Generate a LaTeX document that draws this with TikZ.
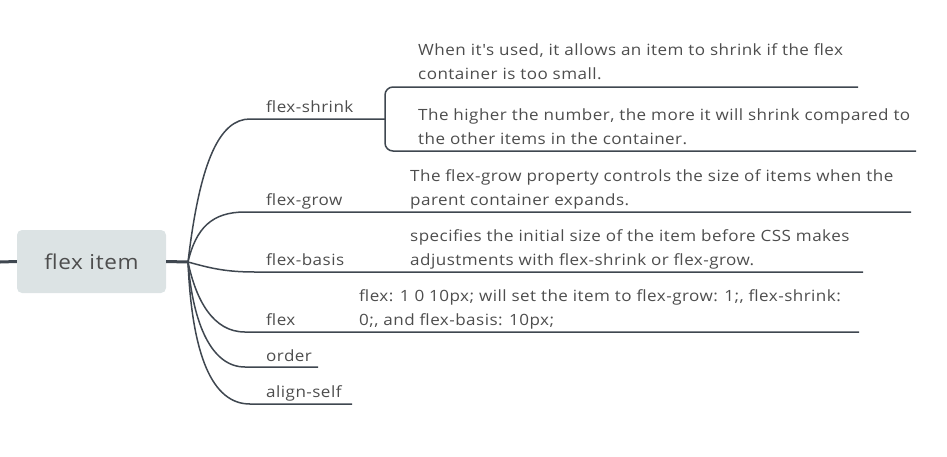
\documentclass[tikz,border=0pt]{standalone}
\usepackage{fontspec}
\setmainfont{Open Sans}[FakeStretch=1.1,LetterSpace=3,Ligatures=TeXOff]
\definecolor{linec}{HTML}{3F4750}
\definecolor{textc}{HTML}{4D4D4D}
\definecolor{boxc}{HTML}{DCE3E4}
\begin{document}
\begin{tikzpicture}[x=1pt,y=-1pt,
  conn/.style={draw=linec,line width=1.5pt},
  thick conn/.style={draw=linec,line width=3pt},
  lbl/.style={anchor=base west,inner sep=0pt,text=textc,font=\fontsize{15.5}{19}\selectfont},
  desc/.style={anchor=base west,inner sep=0pt,text=textc,font=\fontsize{15.5}{19}\selectfont},
  rootbox/.style={fill=boxc,rounded corners=5pt,minimum width=149pt,minimum height=63pt,inner sep=0pt,text=textc,font=\fontsize{20.5}{24}\selectfont}]
\useasboundingbox (0,0) rectangle (947,456);
% root
\node[rootbox] (root) at (91.5,261.5) {flex item};
\coordinate (lin) at (0,262);
\coordinate (j) at (188,262);
\draw[thick conn] (lin) -- (root.west);
\draw[thick conn] (root.east) -- (j);
% labels
\node[lbl] (shrink) at (266,112) {flex-shrink};
\node[lbl] (grow) at (266,205) {flex-grow};
\node[lbl] (basis) at (266,265) {flex-basis};
\node[lbl] (flex) at (266,325) {flex};
\node[lbl] (order) at (266,361) {order};
\node[lbl] (align) at (266,397) {align-self};
% coordinates
\coordinate (s0) at (250,119); \coordinate (s1) at (385,119);
\coordinate (g0) at (245,212); \coordinate (g1) at (911,212);
\coordinate (b0) at (255,272); \coordinate (b1) at (863,272);
\coordinate (f0) at (245,332); \coordinate (f1) at (859,332);
\coordinate (o0) at (245,367); \coordinate (o1) at (318,367);
\coordinate (a0) at (250,404); \coordinate (a1) at (352,404);
\coordinate (bt) at (858,87); \coordinate (bb) at (916,151);
% branches
\draw[conn] (j) .. controls (200,160) and (220,119) .. (s0) -- (s1);
\draw[conn] (j) .. controls (196,228) and (212,212) .. (g0) -- (g1);
\draw[conn] (j) .. controls (210,268) and (225,272) .. (b0) -- (b1);
\draw[conn] (j) .. controls (196,300) and (213,332) .. (f0) -- (f1);
\draw[conn] (j) .. controls (193,325) and (212,367) .. (o0) -- (o1);
\draw[conn] (j) .. controls (192,355) and (212,404) .. (a0) -- (a1);
% bracket
\draw[conn,rounded corners=8pt] (bt) -- (385,87) -- (385,151) -- (bb);
% descriptions
\node[desc] (d1a) at (418,55) {When it's used, it allows an item to shrink if the flex};
\node[desc] (d1b) at (418,79) {container is too small.};
\node[desc] (d2a) at (418,120) {The higher the number, the more it will shrink compared to};
\node[desc] (d2b) at (418,144) {the other items in the container.};
\node[desc] (d3a) at (410,181) {The flex-grow property controls the size of items when the};
\node[desc] (d3b) at (410,205) {parent container expands.};
\node[desc] (d4a) at (410,241) {specifies the initial size of the item before CSS makes};
\node[desc] (d4b) at (410,265) {adjustments with flex-shrink or flex-grow.};
\node[desc] (d5a) at (359,301) {flex: 1 0 10px; will set the item to flex-grow: 1;, flex-shrink:};
\node[desc] (d5b) at (359,325) {0;, and flex-basis: 10px;};
\end{tikzpicture}
\end{document}
